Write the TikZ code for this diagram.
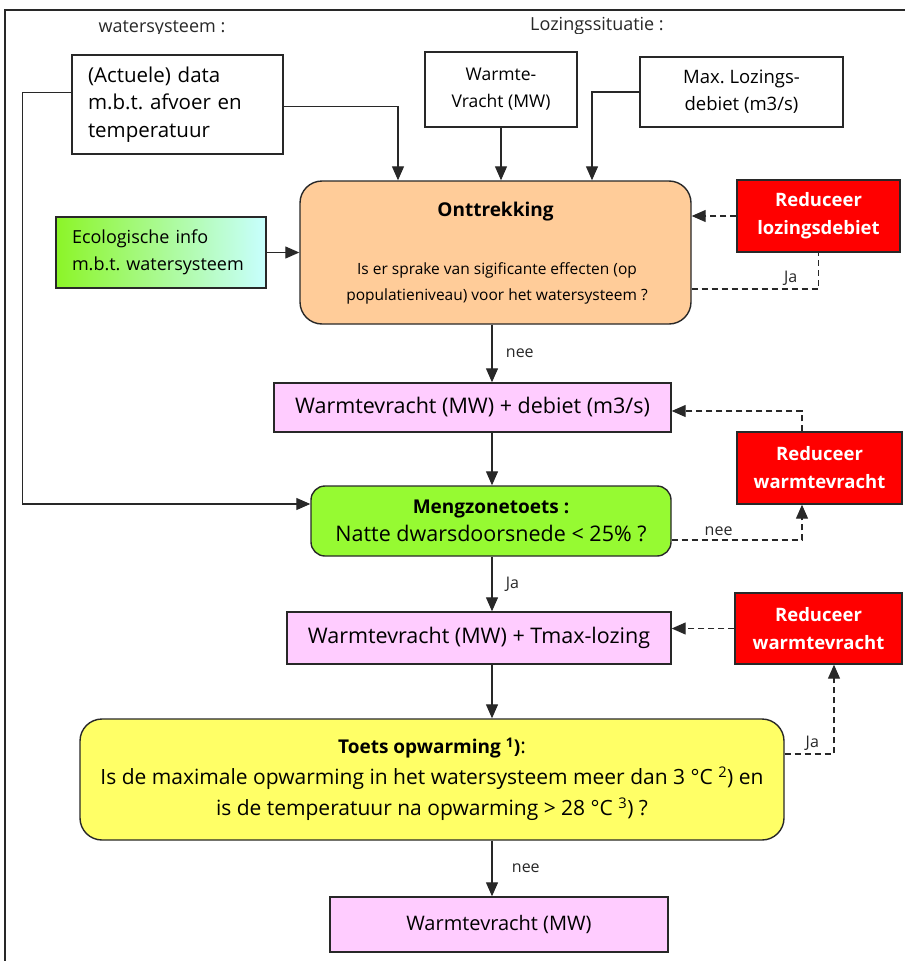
\documentclass[tikz,border=0pt]{standalone}
\usepackage{fontspec}
\setmainfont{Open Sans}
\usetikzlibrary{arrows.meta,positioning,calc,shapes}
\frenchspacing

\definecolor{peach}{RGB}{255,204,153}
\definecolor{lila}{RGB}{255,204,255}
\definecolor{lime}{RGB}{150,250,50}
\definecolor{geel}{RGB}{255,255,102}
\definecolor{ecogreen}{RGB}{140,245,40}
\definecolor{ecocyan}{RGB}{200,255,255}
\definecolor{lijn}{RGB}{40,40,40}
\newcommand{\kop}[1]{{\fontsize{19}{27}\selectfont\bfseries #1}}

\begin{document}
\begin{tikzpicture}[x=1pt,y=-1pt,
    box/.style={draw=lijn, line width=1.4pt, fill=white, inner sep=0pt,
      font=\fontsize{21.5}{28}\selectfont, align=center},
    roundbox/.style={box, rounded corners=22pt},
    redbox/.style={box, fill=red, text=white,
      font=\fontsize{18.5}{28}\selectfont\bfseries},
    arr/.style={line width=1.2pt, draw=lijn, -{Triangle[length=14pt,width=12pt]}},
    dasharr/.style={arr, dash pattern=on 6pt off 4pt},
    dashline/.style={line width=1.2pt, draw=lijn, dash pattern=on 6pt off 4pt},
    lbl/.style={font=\fontsize{16}{18}\selectfont, text=lijn}]
  \useasboundingbox (0,0) rectangle (905,961);
  \fill[white] (0,0) rectangle (905,961);

  % frame and headings
  \draw[line width=1.4pt, lijn] (5,961) -- (5,10) -- (905,10);
  \begin{scope}
    \clip (6,11) rectangle (905,33);
    \node[lbl, font=\fontsize{18}{20}\selectfont] (hwater) at (162,29) {watersysteem :};
    \node[lbl, font=\fontsize{18}{20}\selectfont] (hlozing) at (597,26) {Lozingssituatie :};
  \end{scope}
  \coordinate (spine) at (492,0);

  % input boxes
  \node[box, font=\fontsize{20.5}{27.5}\selectfont, minimum width=211pt, minimum height=99pt,
    text width=179pt, align=left] (data) at (177.5,104.5) {(Actuele) data\\m.b.t. afvoer en\\temperatuur};
  \node[box, font=\fontsize{17.5}{27}\selectfont, minimum width=152pt, minimum height=75pt]
    (vracht) at (501,89.5) {Warmte-\\Vracht (MW)};
  \node[box, font=\fontsize{18.5}{27}\selectfont, minimum width=203pt, minimum height=70pt]
    (debiet) at (741.5,92) {Max. Lozings-\\debiet (m3/s)};
  \node[box, font=\fontsize{18}{27}\selectfont, left color=ecogreen, right color=ecocyan,
    minimum width=210pt, minimum height=71pt, text width=178pt, align=left]
    (ecoinfo) at (161,252.5) {Ecologische info\\m.b.t. watersysteem};

  % main column
  \node[roundbox, fill=peach, minimum width=391pt, minimum height=143pt] (onttrek) at (495.5,252.5) {};
  \node[font=\fontsize{19}{20}\selectfont\bfseries] (onttitel) at (495.5,212) {Onttrekking};
  \node[font=\fontsize{15.5}{26}\selectfont, align=center] (ontvraag) at (497,283)
    {Is er sprake van sigificante effecten (op\\populatieniveau) voor het watersysteem ?};
  \node[box, fill=lila, minimum width=397pt, minimum height=49pt] (wdebiet) at (472.5,407.5)
    {Warmtevracht (MW) + debiet (m3/s)};
  \node[roundbox, fill=lime, rounded corners=14pt, minimum width=360pt, minimum height=70pt]
    (mengzone) at (491,521) {\kop{Mengzonetoets :}\\Natte dwarsdoorsnede < 25\% ?};
  \node[box, fill=lila, minimum width=384pt, minimum height=52pt] (wtmax) at (479,638)
    {Warmtevracht (MW) + Tmax-lozing};
  \node[roundbox, fill=geel, font=\fontsize{21}{31}\selectfont, minimum width=704pt,
    minimum height=121pt] (opwarming) at (432,779.5)
    {\kop{Toets opwarming \textsuperscript{1})}:\\
     Is de maximale opwarming in het watersysteem meer dan 3 °C \textsuperscript{2}) en\\
     is de temperatuur na opwarming > 28 °C \textsuperscript{3}) ?};
  \node[box, fill=lila, font=\fontsize{20}{27}\selectfont, minimum width=338pt, minimum height=55pt]
    (eind) at (499,924.5) {Warmtevracht (MW)};

  % reduce boxes
  \node[redbox, minimum width=163pt, minimum height=72pt] (redlozing) at (818.5,216) {Reduceer\\lozingsdebiet};
  \node[redbox, minimum width=165pt, minimum height=72pt] (redwarma) at (819.5,468) {Reduceer\\warmtevracht};
  \node[redbox, minimum width=167pt, minimum height=71pt] (redwarmb) at (818.5,628.5) {Reduceer\\warmtevracht};

  % connectors
  \draw[arr] ([yshift=12pt]data.west) -- ++(-49,0) |- ([yshift=17pt]mengzone.west);
  \draw[arr] ([yshift=-2pt]data.east) -| ([xshift=-97.5pt]onttrek.north);
  \draw[arr] (vracht.south) -- (vracht.south |- onttrek.north);
  \draw[arr] (debiet.west) -| ([xshift=96.5pt]onttrek.north);
  \draw[arr] (ecoinfo.east) -- (onttrek.west);
  \draw[dasharr] (redlozing.west) -- (onttrek.east |- redlozing.west);
  \draw[dashline] ([yshift=-36.5pt]onttrek.east) -| node[lbl, pos=0.39, above] {Ja} (redlozing.south);
  \draw[arr] (onttrek.south -| spine) -- node[lbl, right=10pt] {nee} (wdebiet.north -| spine);
  \draw[arr] (wdebiet.south -| spine) -- (mengzone.north -| spine);
  \draw[dasharr] ([xshift=-17.5pt]redwarma.north) |- ([yshift=-3.5pt]wdebiet.east);
  \draw[dasharr] ([yshift=-19pt]mengzone.east) -| node[lbl, pos=0.18, above] {nee} ([xshift=-17.5pt]redwarma.south);
  \draw[arr] (mengzone.south -| spine) -- node[lbl, right=10pt] {Ja} (wtmax.north -| spine);
  \draw[dasharr] (redwarmb.west) -- (wtmax.east |- redwarmb.west);
  \draw[dasharr] ([yshift=25.5pt]opwarming.east) -| node[lbl, pos=0.28, above] {Ja} ([xshift=15.5pt]redwarmb.south);
  \draw[arr] (wtmax.south -| spine) -- (opwarming.north -| spine);
  \draw[arr] (opwarming.south -| spine) -- node[lbl, right=16pt] {nee} (eind.north -| spine);
\end{tikzpicture}
\end{document}
